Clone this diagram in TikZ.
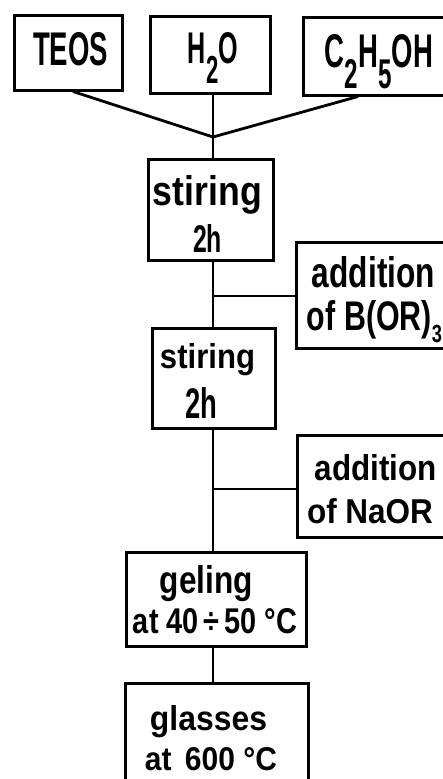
\documentclass[tikz,border=0pt]{standalone}
\usepackage{fontspec}
\setmainfont{Liberation Sans}
\usepackage{graphicx}
\newcommand\fitline[3]{\resizebox{#1pt}{#2pt}{\bfseries #3}}
\newcommand\lsub[3]{\raisebox{-#1em}{\scalebox{#2}{#3}}}
\begin{document}
\begin{tikzpicture}[x=1pt,y=-1pt,
  box/.style={draw, line width=3pt, inner sep=0pt, rectangle},
  conn/.style={draw, line width=2.8pt},
  txt/.style={anchor=base, inner sep=0pt}]
\useasboundingbox (0,0) rectangle (442,779);
% boxes
\node[box, minimum width=108pt, minimum height=75pt] (teos) at (68,52.5) {};
\node[box, minimum width=120pt, minimum height=77pt] (h2o) at (210,54.5) {};
\node[box, minimum width=157pt, minimum height=78pt] (eth) at (381.5,56) {};
\node[box, minimum width=125pt, minimum height=101pt] (stir1) at (210.5,209.5) {};
\node[box, minimum width=164pt, minimum height=106pt] (addB) at (378,295) {};
\node[box, minimum width=123pt, minimum height=100pt] (stir2) at (213.5,378) {};
\node[box, minimum width=163pt, minimum height=102pt] (addNa) at (378.5,486) {};
\node[box, minimum width=180pt, minimum height=94pt] (gel) at (216,599) {};
\node[box, minimum width=183pt, minimum height=117pt] (glass) at (216.5,741.5) {};
% texts
\node[txt] (teosT) at (70.5,65) {\fitline{75}{33}{TEOS}};
\node[txt] (h2oT) at (213,63) {\fitline{50}{31}{H\lsub{0.46}{0.88}{2}O}};
\node[txt] (ethT) at (379,67) {\fitline{108}{33}{C\lsub{0.46}{0.88}{2}H\lsub{0.46}{0.88}{5}OH}};
\node[txt] (stir1a) at (207.5,205) {\fitline{109}{30}{stiring}};
\node[txt] (stir1b) at (207.5,252) {\fitline{29}{28}{2h}};
\node[txt] (addBa) at (373.5,287) {\fitline{123}{31}{addition}};
\node[txt] (addBb) at (374.5,330) {\fitline{135}{30}{of B(OR)\lsub{0.3}{0.6}{3}}};
\node[txt] (stir2a) at (207.5,368) {\fitline{95}{25}{stiring}};
\node[txt] (stir2b) at (201,418) {\fitline{32}{31}{2h}};
\node[txt] (addNaa) at (376,480) {\fitline{122}{26}{addition}};
\node[txt] (addNab) at (370,523) {\fitline{126}{25}{of NaOR}};
\node[txt] (gela) at (206.5,593) {\fitline{93}{28}{geling}};
\node[txt] (gelb) at (215,633) {\fitline{164}{25}{at 40\,÷\,50 °C}};
\node[txt] (glassa) at (208.5,730) {\fitline{117}{25}{glasses}};
\node[txt] (glassb) at (211,770) {\fitline{132}{23}{at \,600 °C}};
% connectors
\coordinate (J) at (213,137);
\draw[conn] ([xshift=5pt]teos.south) -- (J);
\draw[conn] ([xshift=3pt]h2o.south) -- (J);
\draw[conn] ([xshift=-23.5pt]eth.south) -- (J);
\draw[conn] (J) -- (J |- stir1.north);
\draw[conn] (stir1.south -| J) -- (stir2.north -| J);
\draw[conn] ([yshift=-1pt]addB.west -| J) -- ([yshift=-1pt]addB.west);
\draw[conn] (stir2.south -| J) -- (gel.north -| J);
\draw[conn] ([yshift=-3pt]addNa.west -| J) -- ([yshift=-3pt]addNa.west);
\draw[conn] (gel.south -| J) -- (glass.north -| J);
\end{tikzpicture}
\end{document}
